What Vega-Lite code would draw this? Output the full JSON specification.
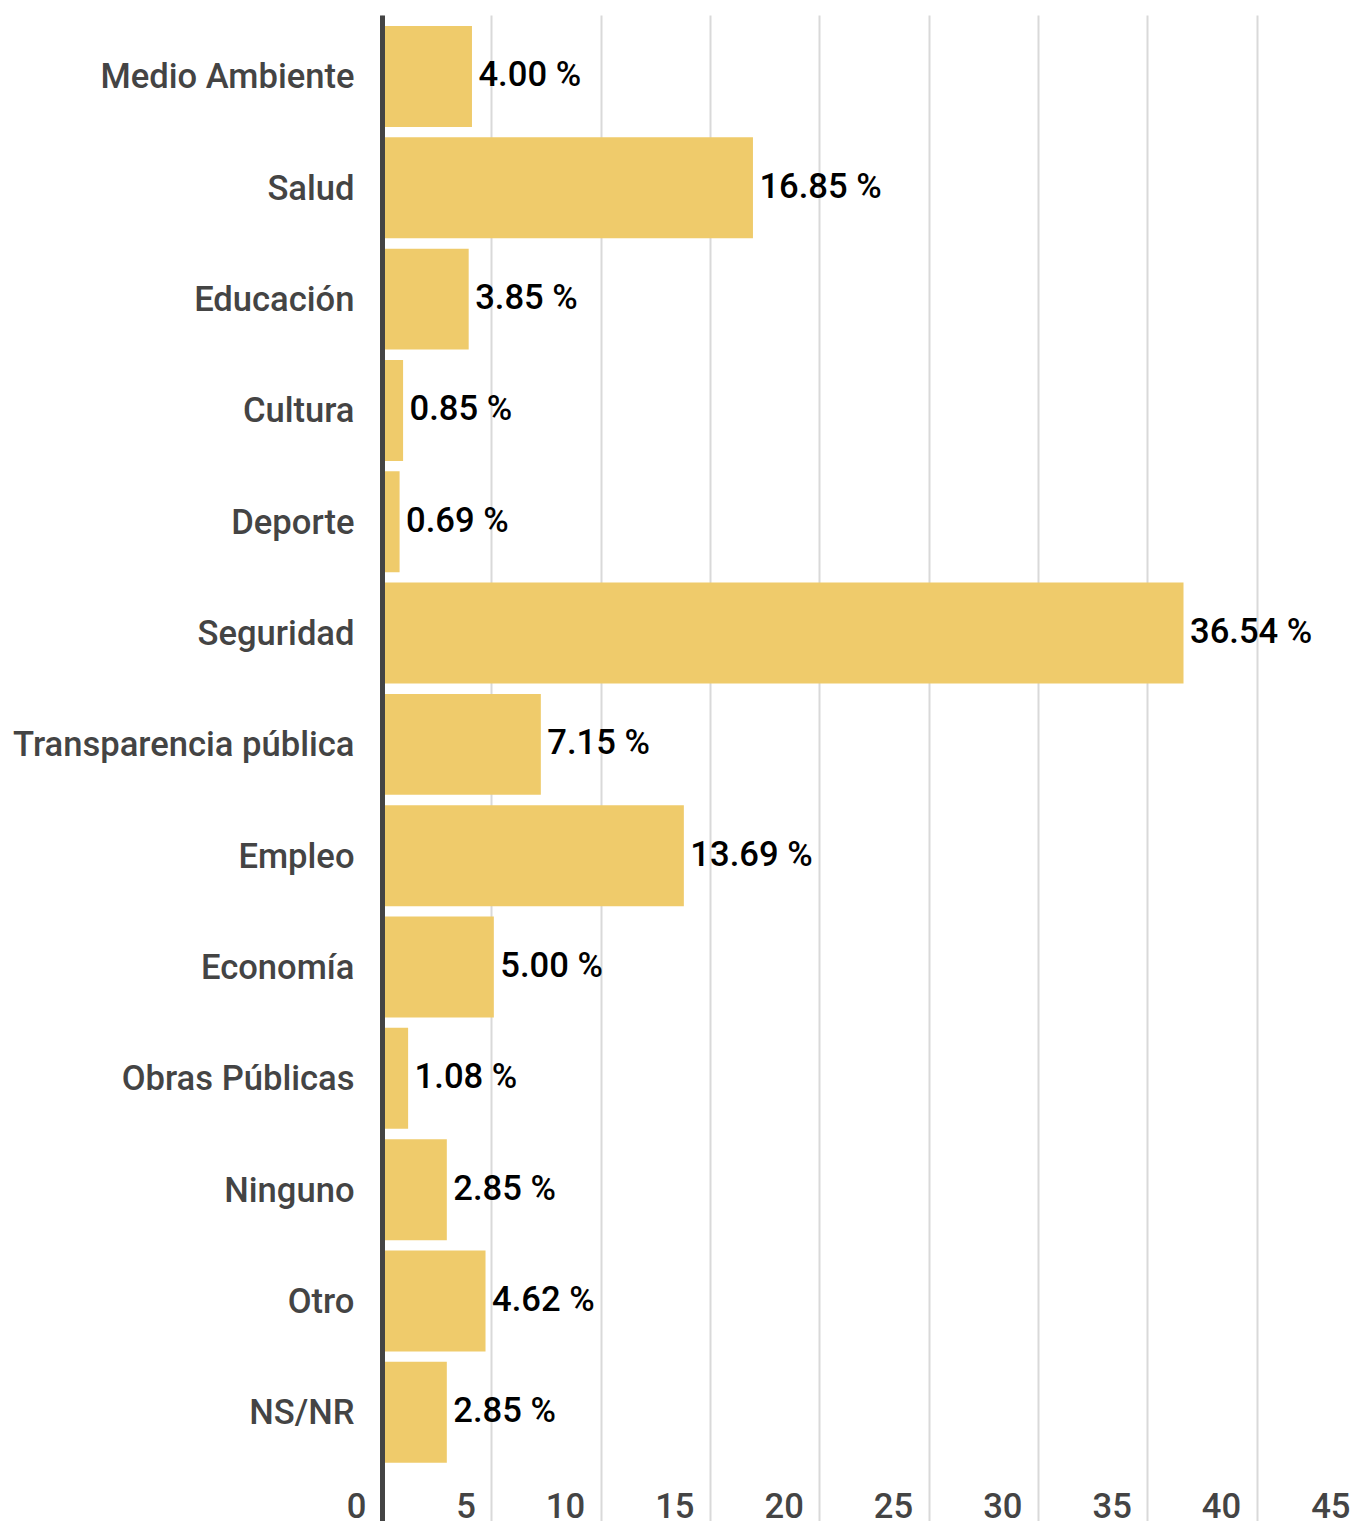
{
  "$schema": "https://vega.github.io/schema/vega-lite/v6.json",
  "autosize": {"type": "none"},
  "padding": {"left": 382, "top": 15, "right": 0, "bottom": 0},
  "width": 977,
  "height": 1506,
  "background": "white",
  "config": {"view": {"stroke": null}, "font": "Roboto"},
  "data": {
    "values": [
      {"tema": "Medio Ambiente", "valor": 4.00, "etiqueta": "4.00 %"},
      {"tema": "Salud", "valor": 16.85, "etiqueta": "16.85 %"},
      {"tema": "Educación", "valor": 3.85, "etiqueta": "3.85 %"},
      {"tema": "Cultura", "valor": 0.85, "etiqueta": "0.85 %"},
      {"tema": "Deporte", "valor": 0.69, "etiqueta": "0.69 %"},
      {"tema": "Seguridad", "valor": 36.54, "etiqueta": "36.54 %"},
      {"tema": "Transparencia pública", "valor": 7.15, "etiqueta": "7.15 %"},
      {"tema": "Empleo", "valor": 13.69, "etiqueta": "13.69 %"},
      {"tema": "Economía", "valor": 5.00, "etiqueta": "5.00 %"},
      {"tema": "Obras Públicas", "valor": 1.08, "etiqueta": "1.08 %"},
      {"tema": "Ninguno", "valor": 2.85, "etiqueta": "2.85 %"},
      {"tema": "Otro", "valor": 4.62, "etiqueta": "4.62 %"},
      {"tema": "NS/NR", "valor": 2.85, "etiqueta": "2.85 %"}
    ]
  },
  "encoding": {
    "y": {
      "field": "tema",
      "type": "nominal",
      "sort": null,
      "scale": {"paddingInner": 0.093, "paddingOuter": 0.311, "align": 0.159},
      "axis": {
        "title": null,
        "ticks": false,
        "tickSize": 0,
        "labelPadding": 28,
        "labelOffset": 2,
        "labelFont": "Roboto",
        "labelFontSize": 34.6,
        "labelFontWeight": 500,
        "labelColor": "#444444",
        "labelLimit": 0,
        "domainColor": "#444444",
        "domainWidth": 5,
        "zindex": 2
      }
    },
    "x": {
      "field": "valor",
      "type": "quantitative",
      "scale": {"domain": [0, 45], "range": [0, 984], "nice": false},
      "axis": {
        "title": null,
        "values": [0, 5, 10, 15, 20, 25, 30, 35, 40, 45],
        "domain": false,
        "ticks": false,
        "tickSize": 0,
        "grid": true,
        "gridColor": "#d9d9d9",
        "gridWidth": 2,
        "labelFlush": false,
        "labelOverlap": false,
        "labelAlign": "right",
        "labelBaseline": "alphabetic",
        "labelPadding": -4,
        "labelOffset": -16,
        "labelFont": "Roboto",
        "labelFontSize": 34.6,
        "labelFontWeight": 500,
        "labelColor": "#444444",
        "zindex": 0
      }
    }
  },
  "layer": [
    {"mark": {"type": "bar", "color": "#efcb6b", "xOffset": 2.5}},
    {
      "mark": {"type": "text", "align": "left", "baseline": "middle", "dx": 9, "dy": 0, "font": "Roboto", "fontSize": 34.6, "fontWeight": 500, "color": "#000000"},
      "encoding": {"text": {"field": "etiqueta", "type": "nominal"}}
    }
  ]
}
